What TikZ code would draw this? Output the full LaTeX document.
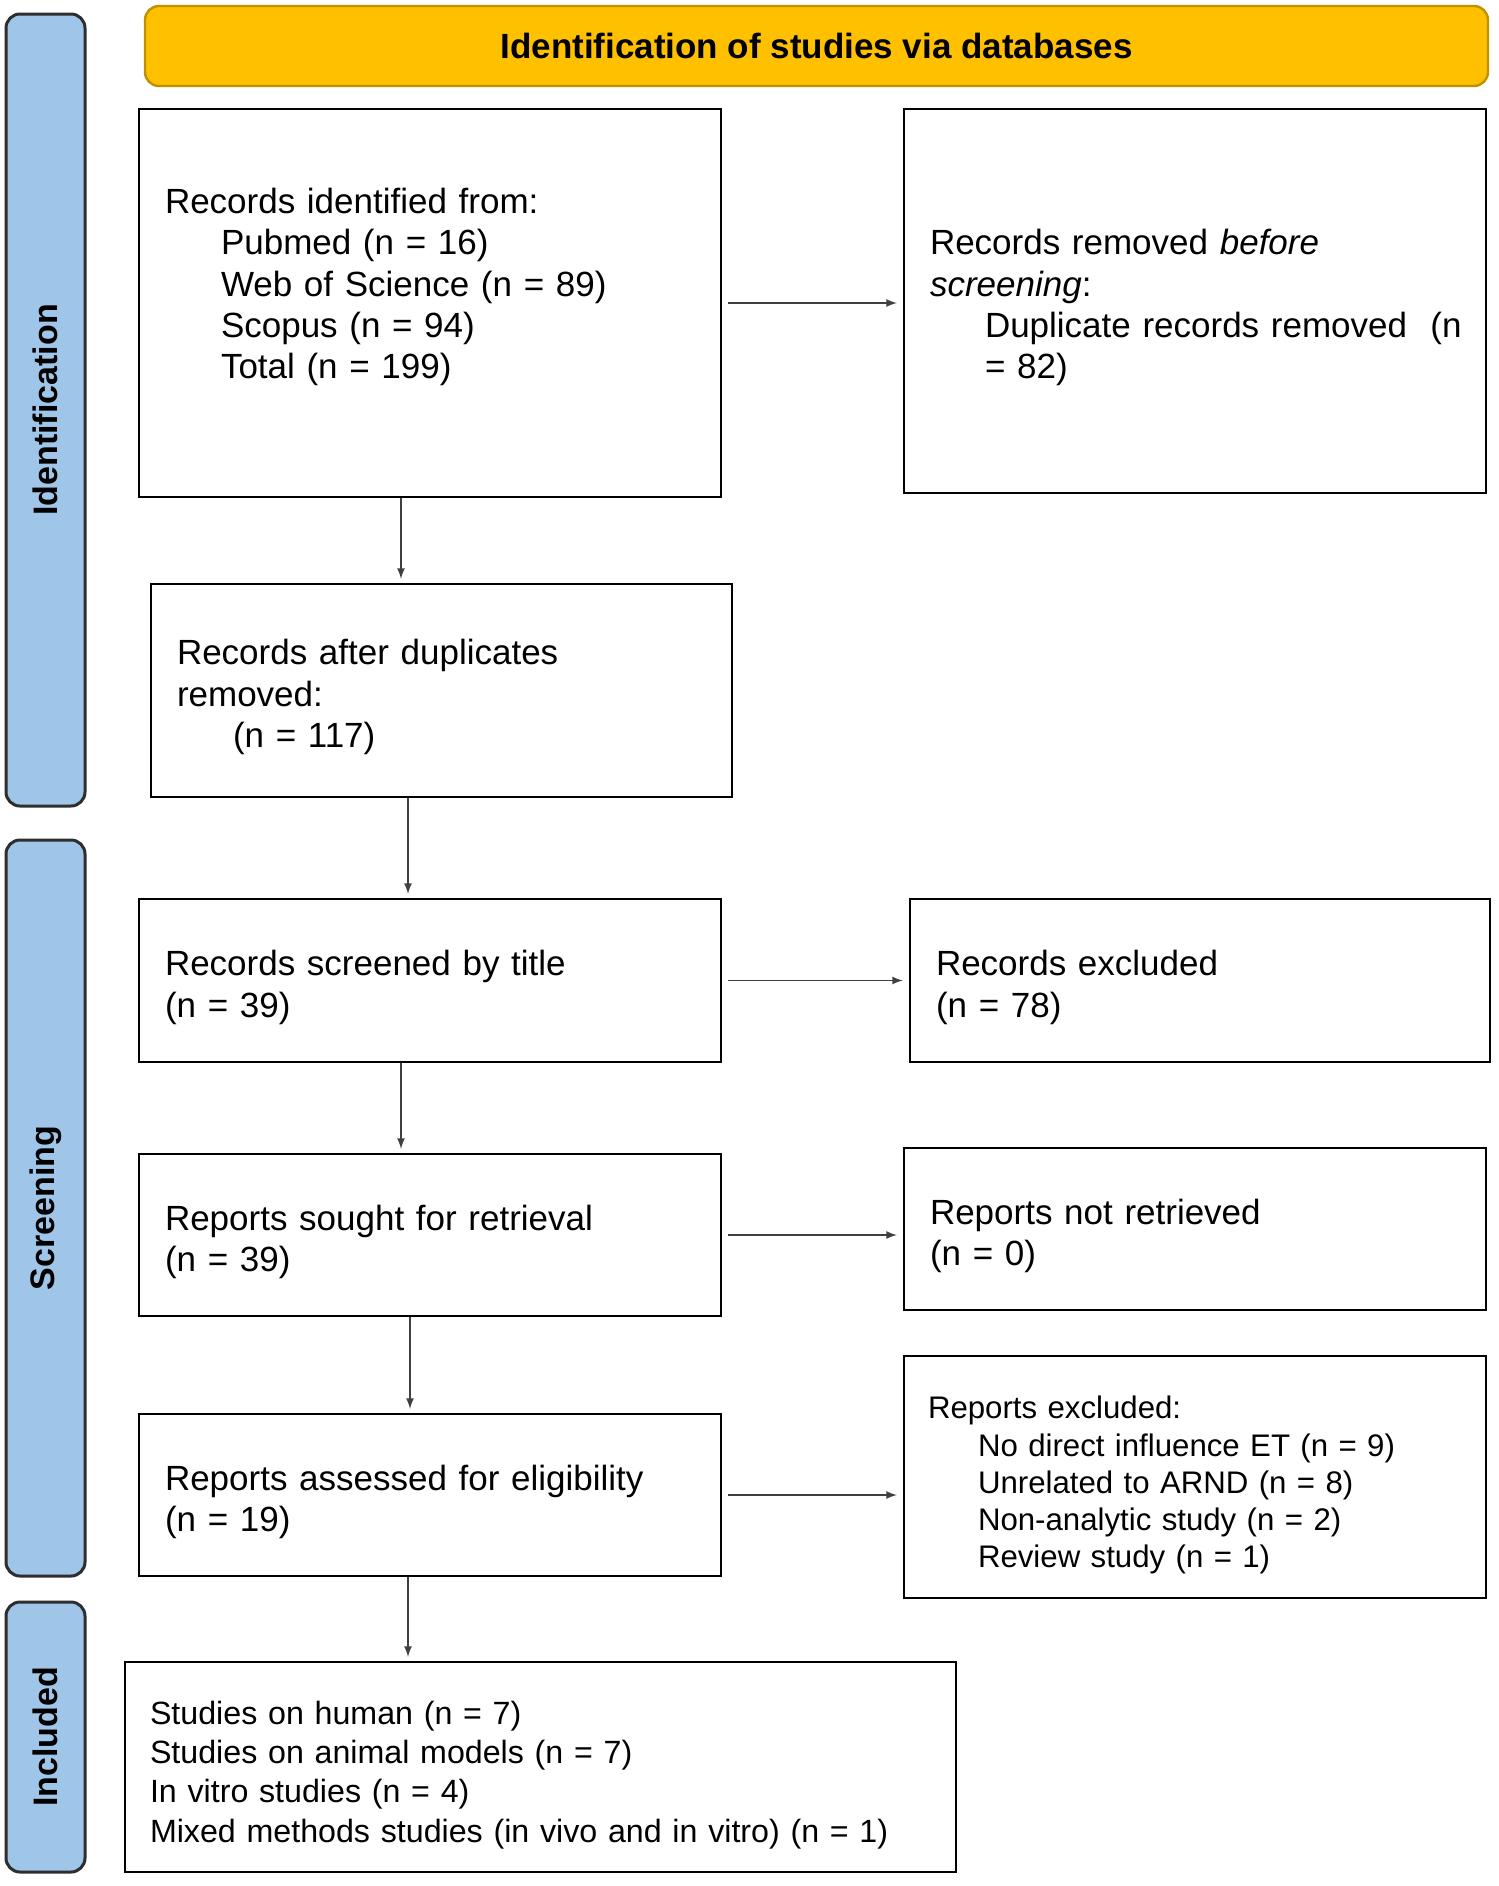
\documentclass[tikz,border=0pt]{standalone}
\usepackage{fontspec}
\setmainfont{Liberation Sans}
\usepackage{tikz}

\definecolor{headyellow}{HTML}{FFC000}
\definecolor{headborder}{HTML}{BF9000}
\definecolor{sideblue}{HTML}{9FC5E8}
\definecolor{sideborder}{HTML}{2E2E2E}

\begin{document}
\begin{tikzpicture}[x=0.5pt, y=-0.5pt,
  box/.style={draw, line width=1.2pt, fill=white, align=left, inner xsep=13pt, inner ysep=0pt, font=\fontsize{17.5}{20.7}\selectfont, execute at begin node={\rule{0pt}{19.5pt}}},
  side/.style={draw=sideborder, fill=sideblue, line width=1.5pt, rounded corners=7pt, rotate=90, minimum height=39.5pt, inner sep=0pt, font=\fontsize{17}{20}\selectfont\bfseries},
  arr/.style={-latex, line width=0.8pt, draw=black!75}]
  \useasboundingbox (0,0) rectangle (1499,1886);
  % header and phase bars
  \node[draw=headborder, fill=headyellow, line width=1.2pt, rounded corners=7pt, minimum width=671.5pt, minimum height=40pt, font=\fontsize{17.5}{21}\selectfont\bfseries] (header) at (816.5,46) {Identification of studies via databases};
  \node[side, minimum width=396pt] (idside) at (45.5,410) {Identification};
  \node[side, minimum width=368pt] (scrside) at (45.5,1208) {Screening};
  \node[side, minimum width=135pt] (incside) at (45.5,1737) {Included};
  % left column
  \node[box, minimum width=291pt, minimum height=194pt, text width=265pt, execute at begin node={}, execute at end node={\rule[-26.5pt]{0pt}{1pt}}] (idbox) at (430,303) {Records identified from:\\
    \hspace*{28pt}Pubmed (n = 16)\\
    \hspace*{28pt}Web of Science (n = 89)\\
    \hspace*{28pt}Scopus (n = 94)\\
    \hspace*{28pt}Total (n = 199)};
  \node[box, minimum width=290.5pt, minimum height=106.5pt, text width=264.5pt] (afterdup) at (441.5,690.5) {Records after duplicates\\ removed:\\ \hspace*{28pt}(n = 117)};
  \node[box, minimum width=291pt, minimum height=81.5pt, text width=265pt] (screened) at (430,980.5) {Records screened by title\\ (n = 39)};
  \node[box, minimum width=291pt, minimum height=81pt, text width=265pt] (sought) at (430,1235) {Reports sought for retrieval\\ (n = 39)};
  \node[box, minimum width=291pt, minimum height=81pt, text width=265pt] (assessed) at (430,1495) {Reports assessed for eligibility\\ (n = 19)};
  \node[box, minimum width=415.5pt, minimum height=105pt, text width=390.5pt, inner xsep=12.5pt, font=\fontsize{16.1}{19.7}\selectfont] (included) at (540.5,1767) {Studies on human (n = 7)\\
    Studies on animal models (n = 7)\\
    In vitro studies (n = 4)\\
    Mixed methods studies (in vivo and in vitro) (n = 1)};
  % right column
  \node[box, minimum width=291pt, minimum height=192pt, text width=265pt] (removed) at (1195,301) {Records removed \textit{before}\\ \textit{screening}:\\
    \mbox{\hspace*{27.5pt}Duplicate records removed\ \ (n}\\
    \hspace*{27.5pt}= 82)};
  \node[box, minimum width=290pt, minimum height=81.5pt, text width=264pt] (excluded) at (1200,980.5) {Records excluded\\ (n = 78)};
  \node[box, minimum width=291pt, minimum height=81pt, text width=265pt] (notret) at (1195,1229) {Reports not retrieved\\ (n = 0)};
  \node[box, minimum width=291pt, minimum height=121pt, text width=267pt, inner xsep=12pt, font=\fontsize{15.6}{18.6}\selectfont] (rexcl) at (1195,1477) {Reports excluded:\\
    \hspace*{25pt}No direct influence ET (n = 9)\\
    \hspace*{25pt}Unrelated to ARND (n = 8)\\
    \hspace*{25pt}Non-analytic study (n = 2)\\
    \hspace*{25pt}Review study (n = 1)};
  % arrows
  \foreach \a/\b/\s in {idbox/afterdup/-14.5pt, afterdup/screened/-16.75pt, screened/sought/-14.5pt, sought/assessed/-10pt, assessed/included/-11pt}
    {\draw[arr, shorten >=2pt] ([xshift=\s]\a.south) -- ([xshift=\s]\a.south |- \b.north);}
  \foreach \a/\b in {idbox/removed, screened/excluded, sought/notret, assessed/rexcl}
    {\draw[arr, shorten <=3pt, shorten >=3pt] (\a.east) -- (\a.east -| \b.west);}
\end{tikzpicture}
\end{document}
